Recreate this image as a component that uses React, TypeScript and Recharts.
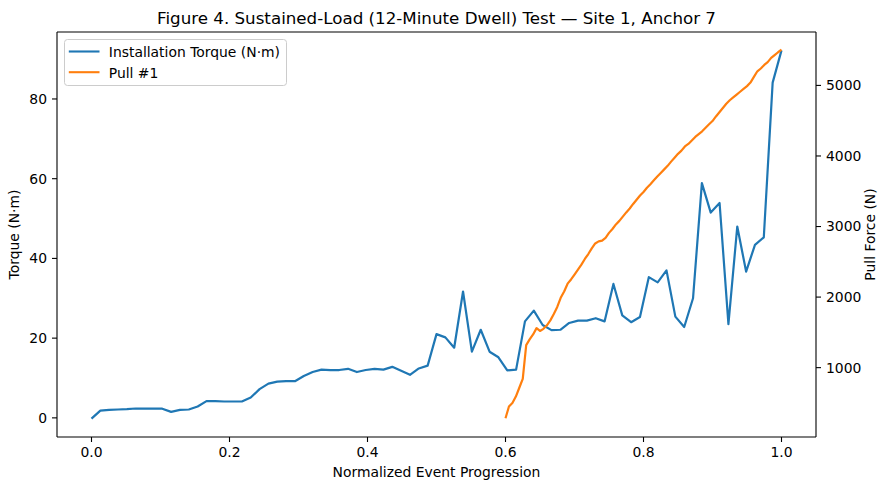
import React from 'react';
import { LineChart, Line, XAxis, YAxis, Legend, ReferenceLine } from 'recharts';

const FONT = '"DejaVu Sans", Verdana, sans-serif';

const TITLE = 'Figure 4. Sustained-Load (12-Minute Dwell) Test — Site 1, Anchor 7';
const X_LABEL = 'Normalized Event Progression';
const LEFT_LABEL = 'Torque (N·m)';
const RIGHT_LABEL = 'Pull Force (N)';
const TORQUE_NAME = 'Installation Torque (N·m)';
const PULL_NAME = 'Pull #1';

// Installation torque, evenly spaced over progression 0..1
const TORQUE = [
  -0.2, 1.8, 2.0, 2.1, 2.2, 2.35, 2.3, 2.3, 2.3, 1.5,
  2.0, 2.1, 2.85, 4.2, 4.2, 4.1, 4.1, 4.1, 5.1, 7.2,
  8.6, 9.1, 9.2, 9.2, 10.5, 11.5, 12.1, 12.0, 12.0, 12.3,
  11.5, 12.0, 12.3, 12.1, 12.8, 11.8, 10.8, 12.4, 13.1, 21.0,
  20.2, 17.6, 31.7, 16.6, 22.1, 16.6, 15.2, 11.9, 12.1, 24.2,
  26.9, 23.3, 22.0, 22.1, 23.8, 24.4, 24.4, 25.0, 24.2, 33.6,
  25.7, 24.0, 25.3, 35.3, 34.0, 37.0, 25.4, 22.8, 30.0, 58.9,
  51.5, 53.9, 23.5, 48.0, 36.7, 43.4, 45.3, 84.1, 92.2,
];

// Pull #1 force, sampled from progression 0.600 to 1.000 every 0.005
const PULL_START = 0.6;
const PULL_STEP = 0.005;
const PULL = [
  282, 450, 500, 590, 715, 840, 1320, 1400, 1470, 1560,
  1520, 1550, 1600, 1670, 1760, 1860, 1990, 2080, 2190, 2250,
  2320, 2390, 2460, 2540, 2610, 2690, 2760, 2790, 2800, 2840,
  2910, 2965, 3030, 3080, 3140, 3200, 3255, 3320, 3380, 3440,
  3490, 3550, 3600, 3655, 3710, 3760, 3810, 3860, 3920, 3975,
  4030, 4075, 4135, 4170, 4220, 4270, 4310, 4350, 4400, 4450,
  4495, 4560, 4620, 4680, 4740, 4790, 4830, 4870, 4910, 4950,
  4990, 5040, 5120, 5200, 5240, 5290, 5330, 5390, 5430, 5470,
  5506,
];

const X_TICKS = [0, 0.2, 0.4, 0.6, 0.8, 1.0];
const TORQUE_TICKS = [0, 20, 40, 60, 80];
const PULL_TICKS = [1000, 2000, 3000, 4000, 5000];

const X_DOMAIN = [-0.05, 1.05];
const TORQUE_DOMAIN = [-4.8, 96.8];
const PULL_DOMAIN = [17, 5757];

const torqueData = TORQUE.map((v, i) => ({ x: i / (TORQUE.length - 1), torque: v }));
const pullData = PULL.map((v, i) => ({ x: PULL_START + i * PULL_STEP, pull: v }));

const BLUE = '#1f77b4';
const ORANGE = '#ff7f0e';
const TICK_FONT = 13.9;

const axisLine = { stroke: '#000', strokeWidth: 1.1 };
const tickStyle = { fill: '#000', fontSize: TICK_FONT, fontFamily: FONT };

const renderLegend = (props: any) => {
  const payload = (props && props.payload) || [];
  return (
    <svg width={223} height={47} style={{ display: 'block', overflow: 'visible' }}>
      <rect x={0.5} y={0.5} width={222} height={46} rx={3} ry={3} fill="#fff" fillOpacity={0.8} stroke="#cccccc" strokeWidth={1} />
      {payload.map((p: any, i: number) => (
        <g key={i}>
          <line x1={4.8} x2={35.5} y1={12.5 + i * 20.7} y2={12.5 + i * 20.7} stroke={p.color} strokeWidth={2.1} />
          <text x={44.8} y={17.9 + i * 20.6} fontSize={TICK_FONT} fontFamily={FONT} fill="#000">{p.value}</text>
        </g>
      ))}
    </svg>
  );
};

export default function App() {
  return (
    <div style={{ position: 'absolute', left: 0, top: 0, width: 889, height: 490, background: '#fff', fontFamily: FONT }}>
      <LineChart width={889} height={490} margin={{ top: 32, right: 0, bottom: 0, left: 0 }} style={{ fontFamily: FONT }}>
        <XAxis
          xAxisId="b"
          type="number"
          dataKey="x"
          domain={X_DOMAIN}
          ticks={X_TICKS}
          tickFormatter={(v: number) => v.toFixed(1)}
          height={53}
          axisLine={axisLine}
          tickLine={axisLine}
          tick={tickStyle}
          tickSize={5}
          tickMargin={5}
          allowDataOverflow
          label={{
            content: (p: any) => {
              const vb = p.viewBox || { x: 57, y: 437, width: 759, height: 53 };
              return (
                <text x={vb.x + vb.width / 2} y={477} textAnchor="middle" fontSize={TICK_FONT} fontFamily={FONT} fill="#000">
                  {X_LABEL}
                </text>
              );
            },
          }}
        />
        <YAxis
          yAxisId="l"
          type="number"
          domain={TORQUE_DOMAIN}
          ticks={TORQUE_TICKS}
          width={57}
          axisLine={axisLine}
          tickLine={axisLine}
          tick={tickStyle}
          tickSize={5}
          tickMargin={5}
          allowDataOverflow
          label={{
            content: (p: any) => {
              const vb = p.viewBox || { x: 0, y: 32, width: 57, height: 405 };
              const cy = vb.y + vb.height / 2;
              return (
                <text x={19} y={cy} transform={`rotate(-90 19 ${cy})`} textAnchor="middle" fontSize={TICK_FONT} fontFamily={FONT} fill="#000">
                  {LEFT_LABEL}
                </text>
              );
            },
          }}
        />
        <YAxis
          yAxisId="r"
          orientation="right"
          type="number"
          domain={PULL_DOMAIN}
          ticks={PULL_TICKS}
          width={73}
          axisLine={axisLine}
          tickLine={axisLine}
          tick={tickStyle}
          tickSize={5}
          tickMargin={5}
          allowDataOverflow
          label={{
            content: (p: any) => {
              const vb = p.viewBox || { x: 816, y: 32, width: 73, height: 405 };
              const cy = vb.y + vb.height / 2;
              return (
                <text x={875} y={cy} transform={`rotate(-90 875 ${cy})`} textAnchor="middle" fontSize={TICK_FONT} fontFamily={FONT} fill="#000">
                  {RIGHT_LABEL}
                </text>
              );
            },
          }}
        />
        <ReferenceLine xAxisId="b" yAxisId="l" y={TORQUE_DOMAIN[1]} stroke="#000" strokeWidth={1.1} ifOverflow="visible" />
        <Legend
          layout="horizontal"
          verticalAlign="middle"
          align="center"
          content={renderLegend}
          wrapperStyle={{ left: 63.5, top: 38.8, width: 223, height: 47 }}
        />
        <Line
          data={torqueData}
          xAxisId="b"
          yAxisId="l"
          dataKey="torque"
          name={TORQUE_NAME}
          type="linear"
          stroke={BLUE}
          strokeWidth={2.2}
          strokeLinejoin="round"
          dot={false}
          activeDot={false}
          isAnimationActive={false}
        />
        <Line
          data={pullData}
          xAxisId="b"
          yAxisId="r"
          dataKey="pull"
          name={PULL_NAME}
          type="linear"
          stroke={ORANGE}
          strokeWidth={2.2}
          strokeLinejoin="round"
          dot={false}
          activeDot={false}
          isAnimationActive={false}
        />
      </LineChart>
      <div
        style={{
          position: 'absolute',
          left: 57,
          width: 759,
          top: 9,
          textAlign: 'center',
          fontSize: 16.7,
          lineHeight: '19px',
          fontFamily: FONT,
          color: '#000',
          whiteSpace: 'nowrap',
        }}
      >
        {TITLE}
      </div>
    </div>
  );
}
